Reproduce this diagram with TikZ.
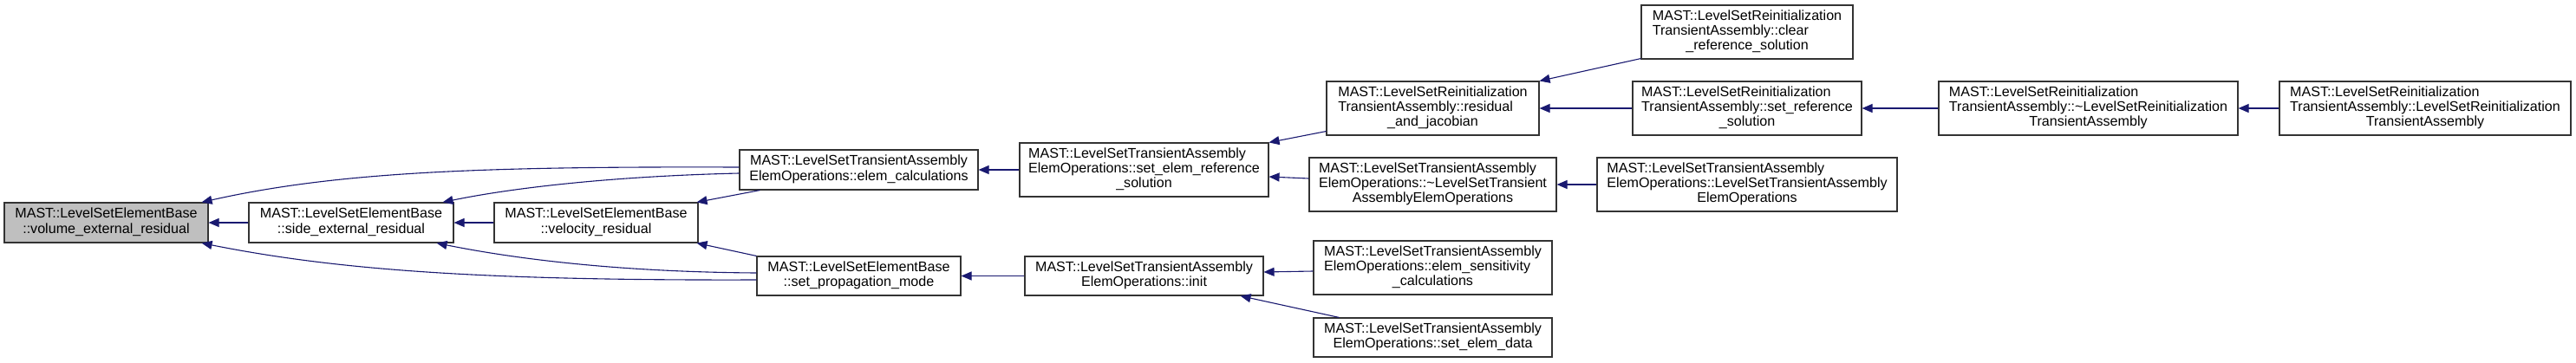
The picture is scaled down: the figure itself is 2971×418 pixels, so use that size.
\documentclass[tikz,border=0pt]{standalone}
\usepackage{fontspec}
\setmainfont{Liberation Sans}
\usetikzlibrary{arrows.meta}
\definecolor{edgeblue}{HTML}{191970}
\definecolor{nodegray}{HTML}{BFBFBF}
\newcommand\nodeTwo[2]{\begin{tabular}{@{}c@{}}#1\\#2\end{tabular}}
\newcommand\nodeThree[3]{\begin{tabular}{@{}l@{}}#1\\#2\\\multicolumn{1}{@{}c@{}}{#3}\end{tabular}}
\tikzset{
  box/.style={draw=black!80, line width=1.1pt, fill=white, inner sep=0pt, anchor=center,
    font=\fontsize{16.1}{17.33}\selectfont, text=black},
  edge/.style={draw=edgeblue, line width=1.1pt, -{Triangle[length=12pt,width=10pt]}},
}
\begin{document}
\begin{tikzpicture}[x=1pt,y=-1pt]
\fill[white] (0,0) rectangle (2971,418);
\useasboundingbox (0,0) rectangle (2971,418);

\node[box, fill=nodegray, minimum width=235pt, minimum height=46pt] (A) at (122.5,257)
  {\nodeTwo{MAST::LevelSetElementBase}{::volume\_external\_residual}};
\node[box, minimum width=236pt, minimum height=46pt] (B) at (405,257)
  {\nodeTwo{MAST::LevelSetElementBase}{::side\_external\_residual}};
\node[box, minimum width=235pt, minimum height=46pt] (C) at (687.5,257)
  {\nodeTwo{MAST::LevelSetElementBase}{::velocity\_residual}};
\node[box, minimum width=275pt, minimum height=46pt] (D) at (990.5,196)
  {\nodeTwo{MAST::LevelSetTransientAssembly}{ElemOperations::elem\_calculations}};
\node[box, minimum width=235pt, minimum height=45pt] (E) at (990.5,318.5)
  {\nodeTwo{MAST::LevelSetElementBase}{::set\_propagation\_mode}};
\node[box, minimum width=287pt, minimum height=62pt] (F) at (1319.5,196)
  {\nodeThree{MAST::LevelSetTransientAssembly}{ElemOperations::set\_elem\_reference}{\_solution}};
\node[box, minimum width=275pt, minimum height=45pt] (G) at (1319.5,318.5)
  {\nodeTwo{MAST::LevelSetTransientAssembly}{ElemOperations::init}};
\node[box, minimum width=245pt, minimum height=62pt] (H) at (1652.5,125)
  {\nodeThree{MAST::LevelSetReinitialization}{TransientAssembly::residual}{\_and\_jacobian}};
\node[box, minimum width=285pt, minimum height=62pt] (I) at (1652.5,213)
  {\nodeThree{MAST::LevelSetTransientAssembly}{ElemOperations::\textasciitilde LevelSetTransient}{AssemblyElemOperations}};
\node[box, minimum width=275pt, minimum height=62pt] (J) at (1652.5,309)
  {\nodeThree{MAST::LevelSetTransientAssembly}{ElemOperations::elem\_sensitivity}{\_calculations}};
\node[box, minimum width=275pt, minimum height=45pt] (K) at (1652.5,389.5)
  {\nodeTwo{MAST::LevelSetTransientAssembly}{ElemOperations::set\_elem\_data}};
\node[box, minimum width=244pt, minimum height=62pt] (L) at (2015,37)
  {\nodeThree{MAST::LevelSetReinitialization}{TransientAssembly::clear}{\_reference\_solution}};
\node[box, minimum width=264pt, minimum height=62pt] (M) at (2015,125)
  {\nodeThree{MAST::LevelSetReinitialization}{TransientAssembly::set\_reference}{\_solution}};
\node[box, minimum width=346pt, minimum height=62pt] (N) at (2015,213)
  {\nodeThree{MAST::LevelSetTransientAssembly}{ElemOperations::LevelSetTransientAssembly}{ElemOperations}};
\node[box, minimum width=345pt, minimum height=62pt] (O) at (2408.5,125)
  {\nodeThree{MAST::LevelSetReinitialization}{TransientAssembly::\textasciitilde LevelSetReinitialization}{TransientAssembly}};
\node[box, minimum width=336pt, minimum height=62pt] (P) at (2797,125)
  {\nodeThree{MAST::LevelSetReinitialization}{TransientAssembly::LevelSetReinitialization}{TransientAssembly}};

% edges
\draw[edge] ([yshift=3pt]D.west) .. controls (560,192) and (390,198) .. ([xshift=-8pt]A.north east);
\draw[edge] ([yshift=-4pt]D.west) .. controls (720,203) and (600,215) .. ([xshift=-13pt]B.north east);
\draw[edge] ([xshift=24pt]D.south west) -- ([xshift=-2pt]C.north east);
\draw[edge] (E.north west) -- ([xshift=-2pt]C.south east);
\draw[edge] ([yshift=3.5pt]E.west) .. controls (720,314) and (600,300) .. ([xshift=-20pt]B.south east);
\draw[edge] ([yshift=-4.5pt]E.west) .. controls (560,324) and (390,312) .. ([xshift=-8pt]A.south east);
\draw[edge] (B.west) -- (A.east);
\draw[edge] (C.west) -- (B.east);
\draw[edge] (F.west) -- (D.east);
\draw[edge] (G.west) -- (E.east);
\draw[edge] ([yshift=5pt]H.south west) -- (F.north east);
\draw[edge] ([yshift=7pt]I.west) -- ([yshift=-8pt]F.east);
\draw[edge] ([yshift=-4pt]J.west) -- ([yshift=4.5pt]G.east);
\draw[edge] ([xshift=30pt]K.north west) -- ([xshift=-27pt]G.south east);
\draw[edge] ([yshift=1pt]L.south west) -- (H.north east);
\draw[edge] (M.west) -- (H.east);
\draw[edge] (N.west) -- (I.east);
\draw[edge] (O.west) -- (M.east);
\draw[edge] (P.west) -- (O.east);
\end{tikzpicture}
\end{document}
